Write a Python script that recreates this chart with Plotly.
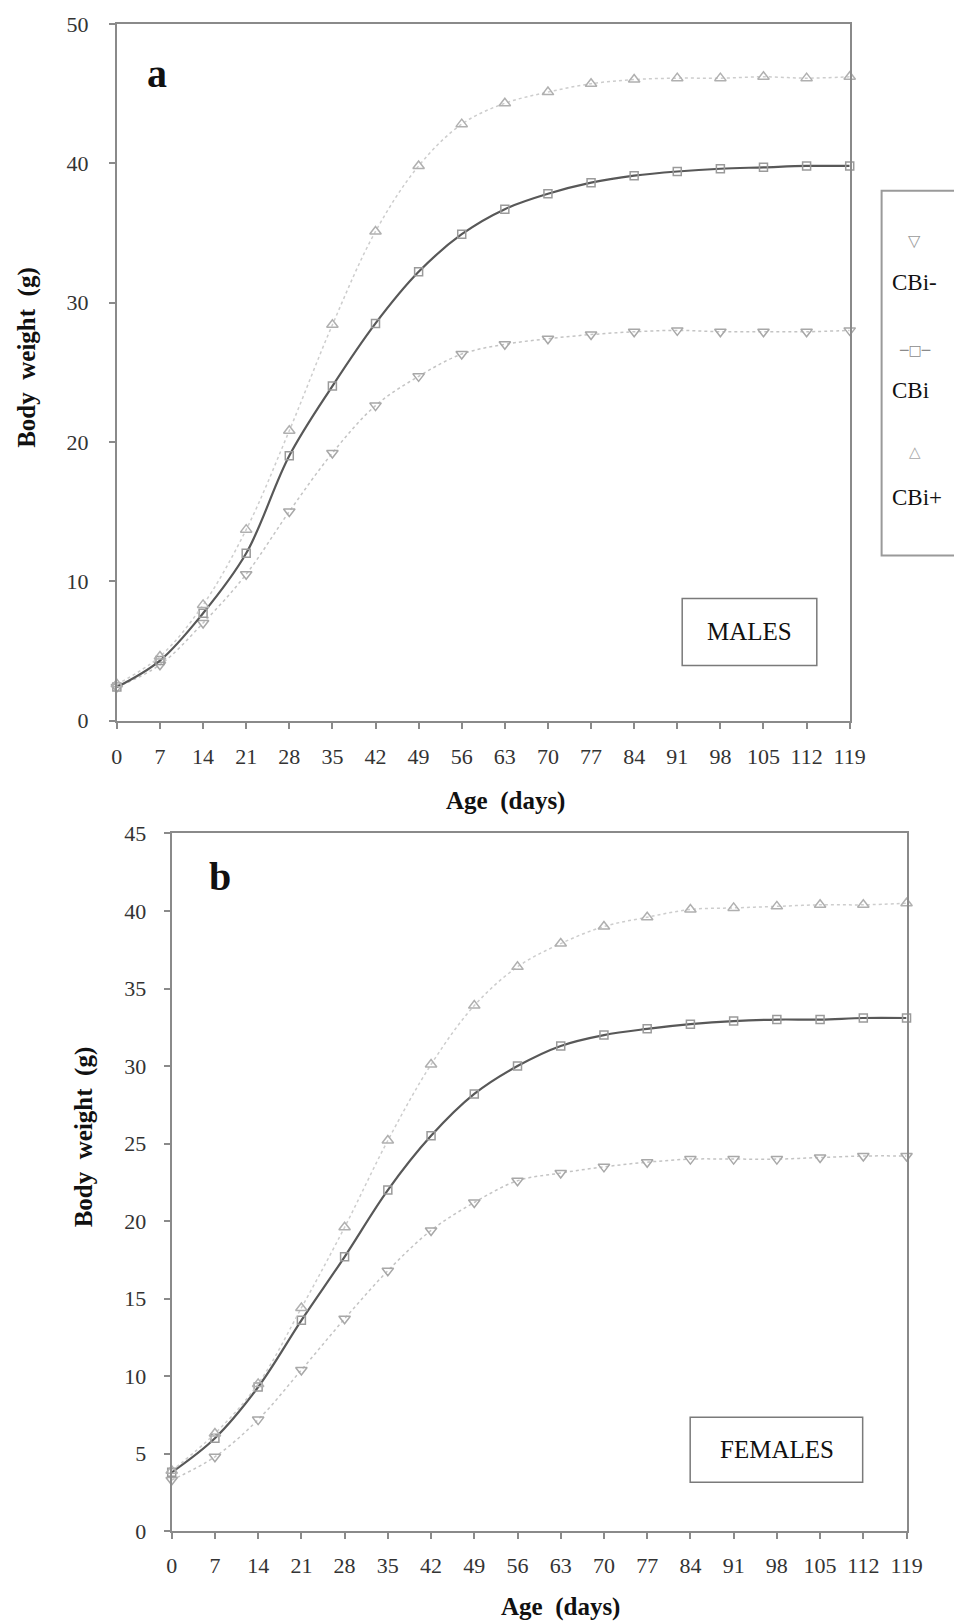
import plotly.graph_objects as go

# ---------------- data ----------------
age_days = [0, 7, 14, 21, 28, 35, 42, 49, 56, 63, 70, 77, 84, 91, 98, 105, 112, 119]
x_tick_labels = [str(v) for v in age_days]

males_cbi_minus = [2.4, 4.0, 7.0, 10.5, 15.0, 19.2, 22.6, 24.7, 26.3, 27.0, 27.4, 27.7, 27.9, 28.0, 27.9, 27.9, 27.9, 28.0]
males_cbi = [2.4, 4.3, 7.7, 12.0, 19.0, 24.0, 28.5, 32.2, 34.9, 36.7, 37.8, 38.6, 39.1, 39.4, 39.6, 39.7, 39.8, 39.8]
males_cbi_plus = [2.6, 4.6, 8.3, 13.7, 20.8, 28.4, 35.1, 39.8, 42.8, 44.3, 45.1, 45.7, 46.0, 46.1, 46.1, 46.2, 46.1, 46.2]

females_cbi_minus = [3.3, 4.8, 7.2, 10.4, 13.7, 16.8, 19.4, 21.2, 22.6, 23.1, 23.5, 23.8, 24.0, 24.0, 24.0, 24.1, 24.2, 24.2]
females_cbi = [3.8, 6.0, 9.3, 13.6, 17.7, 22.0, 25.5, 28.2, 30.0, 31.3, 32.0, 32.4, 32.7, 32.9, 33.0, 33.0, 33.1, 33.1]
females_cbi_plus = [3.9, 6.3, 9.5, 14.4, 19.6, 25.2, 30.1, 33.9, 36.4, 37.9, 39.0, 39.6, 40.1, 40.2, 40.3, 40.4, 40.4, 40.5]

y_ticks_a = [0, 10, 20, 30, 40, 50]
y_ticks_b = [0, 5, 10, 15, 20, 25, 30, 35, 40, 45]

series_names = ["CBi-", "CBi", "CBi+"]

# ---------------- layout helpers ----------------
PAGE_MARGIN = 8
W, H = 962, 1624
# observed mapping of page pixels to the photographed picture
SX, OX = 0.980, 4.0
SY, OY = 0.985, 11.3


def px(x):
    xp = (x - OX) / SX
    return (xp - PAGE_MARGIN) / W


def py(y):
    yp = (y - OY) / SY
    return 1 - (yp - PAGE_MARGIN) / H


SERIF = "Liberation Serif"
AXIS_COLOR = "#8a8a8a"

styles = {
    "CBi-": dict(line=dict(color="#c4c4c4", width=1.5, dash="dot", shape="spline"),
                 marker=dict(symbol="triangle-down-open", size=10, color="#a8a8a8", line=dict(width=1.5))),
    "CBi": dict(line=dict(color="#585858", width=2.2, shape="spline"),
                marker=dict(symbol="square-open", size=8, color="#9a9a9a", line=dict(width=1.5))),
    "CBi+": dict(line=dict(color="#cdcdcd", width=1.5, dash="dot", shape="spline"),
                 marker=dict(symbol="triangle-up-open", size=10, color="#b0b0b0", line=dict(width=1.5))),
}

fig = go.Figure()

panels = [
    ("x", "y", [males_cbi_minus, males_cbi, males_cbi_plus]),
    ("x2", "y2", [females_cbi_minus, females_cbi, females_cbi_plus]),
]
for xa, ya, vals in panels:
    for name, v in zip(series_names, vals):
        fig.add_trace(go.Scatter(x=age_days, y=v, mode="lines+markers", name=name,
                                 xaxis=xa, yaxis=ya, showlegend=False, cliponaxis=False,
                                 **styles[name]))

axis_common = dict(showline=True, mirror=True, linecolor=AXIS_COLOR, linewidth=2,
                   showgrid=False, zeroline=False, ticks="outside", ticklen=6,
                   tickcolor=AXIS_COLOR, tickwidth=1.5,
                   tickfont=dict(family=SERIF, size=22, color="#333333"))

fig.update_layout(
    width=W, height=H, autosize=False,
    margin=dict(l=0, r=0, t=0, b=0, pad=0),
    paper_bgcolor="white", plot_bgcolor="white",
    xaxis=dict(domain=[px(115), px(850)], range=[0, 119], tickvals=age_days, ticktext=x_tick_labels,
               anchor="y", ticklabelstandoff=9, **axis_common),
    yaxis=dict(domain=[py(720), py(23)], range=[0, 50], tickvals=y_ticks_a,
               anchor="x", ticklabelstandoff=16, **axis_common),
    xaxis2=dict(domain=[px(170), px(907)], range=[0, 119], tickvals=age_days, ticktext=x_tick_labels,
                anchor="y2", ticklabelstandoff=7, **axis_common),
    yaxis2=dict(domain=[py(1531), py(833)], range=[0, 45], tickvals=y_ticks_b,
                anchor="x2", ticklabelstandoff=13, **axis_common),
)

annotations = []


def ann(x, y, text, size, bold=False, angle=0, family=SERIF, color="#111111"):
    annotations.append(dict(
        x=px(x), y=py(y), xref="paper", yref="paper", xanchor="center", yanchor="middle",
        text=f"<b>{text}</b>" if bold else text, showarrow=False, textangle=angle,
        font=dict(family=family, size=size, color=color)))


ann(155, 73, "a", 40, bold=True)
ann(218, 876, "b", 40, bold=True)
ann(25, 357, "Body  weight  (g)", 25, bold=True, angle=-90)
ann(82, 1136, "Body  weight  (g)", 25, bold=True, angle=-90)
ann(505, 800, "Age  (days)", 25, bold=True)
ann(560, 1607, "Age  (days)", 25, bold=True)
ann(750, 631, "MALES", 25)
ann(777, 1449, "FEMALES", 25)

# custom legend (symbols stacked above labels)
ann(915, 240, "▽", 16, family="DejaVu Sans", color="#9a9a9a")
ann(915, 282, "CBi-", 23)
ann(915, 349, "─□─", 14, family="DejaVu Sans", color="#8a8a8a")
ann(911, 390, "CBi", 23)
ann(915, 451, "△", 15, family="DejaVu Sans", color="#a8a8a8")
ann(917, 497, "CBi+", 23)

shapes = [
    dict(type="rect", xref="paper", yref="paper", x0=px(682), x1=px(817), y0=py(665), y1=py(598),
         line=dict(color="#7a7a7a", width=1.5)),
    dict(type="rect", xref="paper", yref="paper", x0=px(690), x1=px(863), y0=py(1482), y1=py(1417),
         line=dict(color="#7a7a7a", width=1.5)),
    dict(type="rect", xref="paper", yref="paper", x0=px(882), x1=px(990), y0=py(555), y1=py(190),
         line=dict(color="#9a9a9a", width=2)),
]

fig.update_layout(annotations=annotations, shapes=shapes)

fig.write_html("out.html")
